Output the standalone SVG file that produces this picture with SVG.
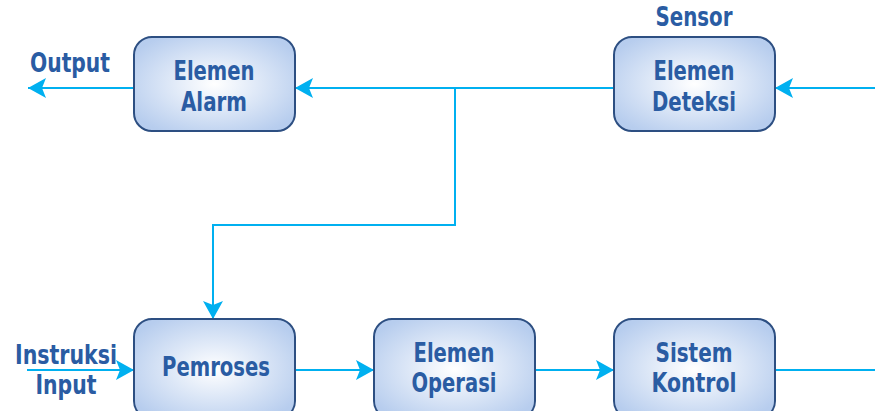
<svg xmlns="http://www.w3.org/2000/svg" width="875" height="411" viewBox="0 0 875 411">
<defs>
<radialGradient id="g" cx="50%" cy="50%" r="60%">
<stop offset="0" stop-color="#ffffff"/>
<stop offset="1" stop-color="#b7cdee"/>
</radialGradient>
<marker id="a" viewBox="0 0 18 20" refX="18" refY="10" markerWidth="18" markerHeight="20" markerUnits="userSpaceOnUse" orient="auto">
<path d="M0,0 L18,10 L0,20 L4,10 Z" fill="#00b0f0"/>
</marker>
<style>
.box{fill:url(#g);stroke:#2d4f82;stroke-width:2}
.t{font-family:"DejaVu Sans Condensed","DejaVu Sans",sans-serif;font-stretch:condensed;font-weight:bold;font-size:27px;fill:#2a5ca3;text-anchor:middle}
.c{fill:none;stroke:#00b0f0;stroke-width:2}
</style>
</defs>
<g id="connectors">
<path class="c" d="M134,88 H28" marker-end="url(#a)"/>
<path class="c" d="M614,88 H295" marker-end="url(#a)"/>
<path class="c" d="M455,88 V225 H213 V319" marker-end="url(#a)"/>
<path class="c" d="M875,88 H775" marker-end="url(#a)"/>
<path class="c" d="M27,370 H134" marker-end="url(#a)"/>
<path class="c" d="M295,370 H374" marker-end="url(#a)"/>
<path class="c" d="M535,370 H614" marker-end="url(#a)"/>
<path class="c" d="M775,370 H875"/>
</g>
<g id="alarm"><rect class="box" x="134" y="37" width="161" height="94" rx="18"/><text class="t" x="214" y="80" textLength="81" lengthAdjust="spacingAndGlyphs">Elemen</text><text class="t" x="214" y="111" textLength="66" lengthAdjust="spacingAndGlyphs">Alarm</text></g>
<g id="deteksi"><rect class="box" x="614" y="37" width="161" height="94" rx="18"/><text class="t" x="694" y="80" textLength="81" lengthAdjust="spacingAndGlyphs">Elemen</text><text class="t" x="694" y="111" textLength="84" lengthAdjust="spacingAndGlyphs">Deteksi</text></g>
<g id="pemroses"><rect class="box" x="134" y="319" width="161" height="100" rx="18"/><text class="t" x="216" y="376" textLength="108" lengthAdjust="spacingAndGlyphs">Pemroses</text></g>
<g id="operasi"><rect class="box" x="374" y="319" width="161" height="100" rx="18"/><text class="t" x="454" y="362" textLength="81" lengthAdjust="spacingAndGlyphs">Elemen</text><text class="t" x="454" y="392" textLength="85" lengthAdjust="spacingAndGlyphs">Operasi</text></g>
<g id="kontrol"><rect class="box" x="614" y="319" width="161" height="100" rx="18"/><text class="t" x="694" y="362" textLength="77" lengthAdjust="spacingAndGlyphs">Sistem</text><text class="t" x="694" y="392" textLength="85" lengthAdjust="spacingAndGlyphs">Kontrol</text></g>
<g id="labels">
<text class="t" x="70" y="72" textLength="80" lengthAdjust="spacingAndGlyphs">Output</text>
<text class="t" x="694" y="26" textLength="77" lengthAdjust="spacingAndGlyphs">Sensor</text>
<text class="t" x="66" y="364" textLength="102" lengthAdjust="spacingAndGlyphs">Instruksi</text>
<text class="t" x="66" y="394" textLength="61" lengthAdjust="spacingAndGlyphs">Input</text>
</g>
</svg>
